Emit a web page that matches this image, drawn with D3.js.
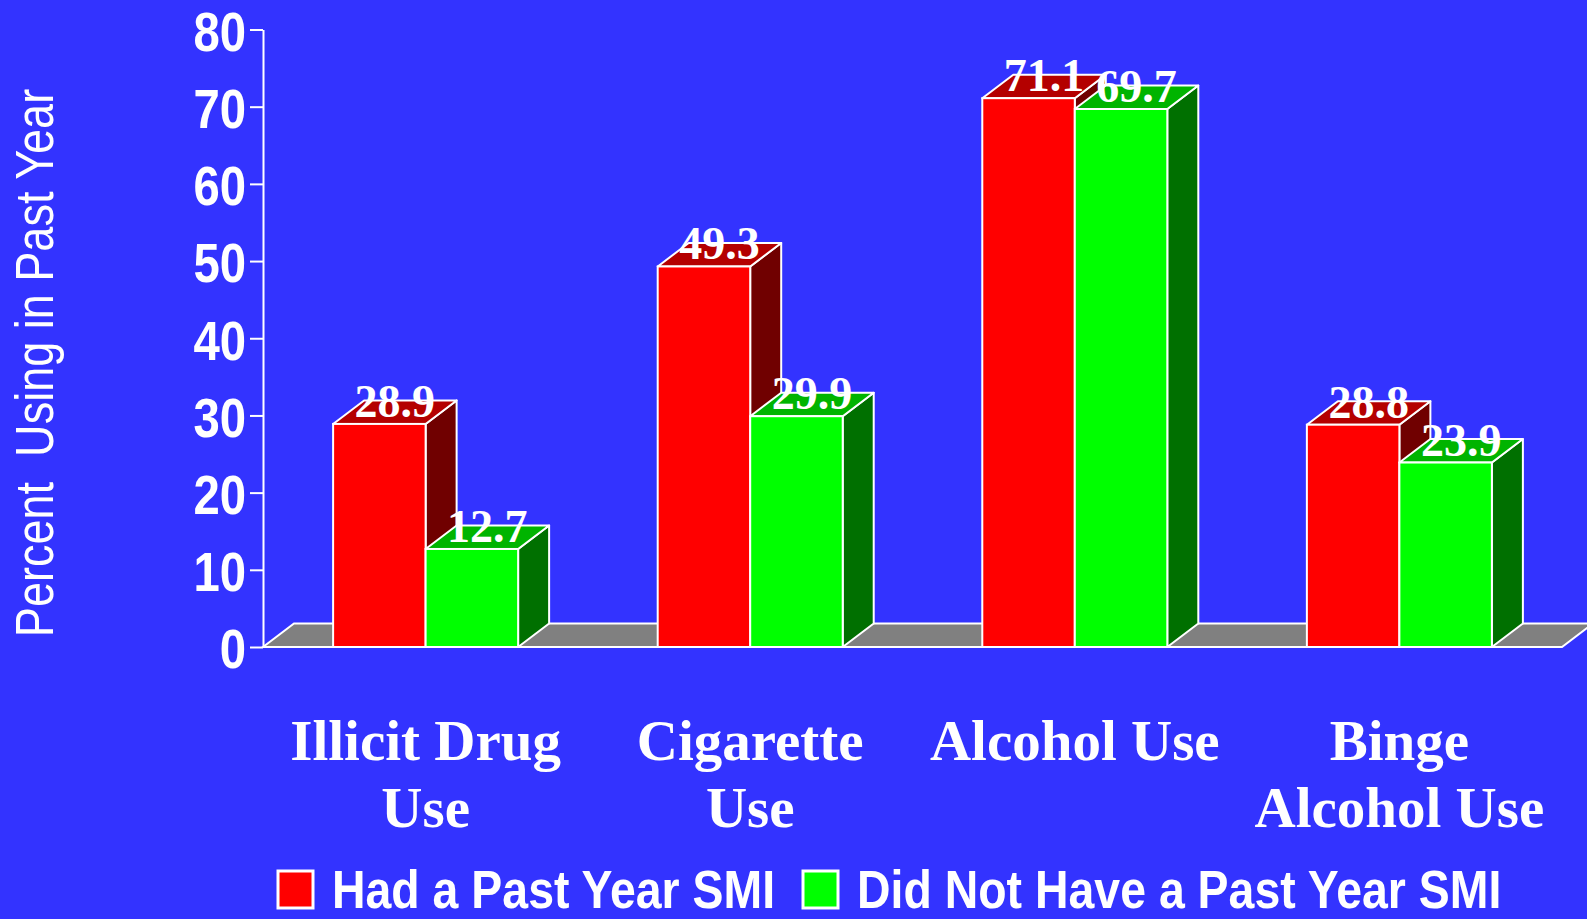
<!DOCTYPE html>
<html>
<head>
<meta charset="utf-8">
<script src="https://cdn.jsdelivr.net/npm/d3@7"></script>
<style>
  html, body { margin: 0; padding: 0; background: #3333ff; }
  svg { display: block; }
</style>
</head>
<body>
<div id="chart"></div>
<script>
// Data
const categories = ["Illicit Drug Use", "Cigarette Use", "Alcohol Use", "Binge Alcohol Use"];
const categoryLines = [["Illicit Drug", "Use"], ["Cigarette", "Use"], ["Alcohol Use"], ["Binge", "Alcohol Use"]];
const seriesNames = ["Had a Past Year SMI", "Did Not Have a Past Year SMI"];
const smiValues = [28.9, 49.3, 71.1, 28.8];
const noSmiValues = [12.7, 29.9, 69.7, 23.9];
const yTicks = [0, 10, 20, 30, 40, 50, 60, 70, 80];

// Dimensions
const width = 1587, height = 919;
const sans = "'Liberation Sans', Arial, sans-serif";
const serif = "'Liberation Serif', 'Times New Roman', serif";

// 3d depth offset
const dx = 31, dy = 23.5;

const colors = [
    {front: "#ff0000", top: "#b40000", side: "#700000"},
    {front: "#00ff00", top: "#00b400", side: "#007000"}
];

// no narrow font installed, so squeeze the sans text horizontally
function squeeze(sel, f) {
    sel.each(function () {
        const t = d3.select(this);
        const xv = +(t.attr("x") || 0);
        const tr = t.attr("transform") || "";
        t.attr("x", xv / f)
            .attr("transform", (tr + " scale(" + f + ",1)").trim());
    });
}

const svg = d3.select("#chart").append("svg")
    .attr("width", width)
    .attr("height", height);

svg.append("rect")
    .attr("width", width)
    .attr("height", height)
    .attr("fill", "#3333ff");

// Scales
const x0 = d3.scaleBand()
    .domain(categories)
    .range([263, 1562])
    .paddingInner(0.43)
    .paddingOuter(0.216);

const x1 = d3.scaleBand()
    .domain(seriesNames)
    .range([0, x0.bandwidth()]);

const y = d3.scaleLinear()
    .domain([0, 80])
    .range([647, 29.5]);

const y0 = y(0);

// Floor
const fl = x0.range()[0], fr = x0.range()[1];
svg.append("polygon")
    .attr("points", [[fl, y0], [fl + dx, y0 - dy], [fr + dx, y0 - dy], [fr, y0]].join(" "))
    .attr("fill", "#808080")
    .attr("stroke", "#ffffff")
    .attr("stroke-width", 2);

// Bars
const rows = categories.map((c, i) => ({cat: c, values: [smiValues[i], noSmiValues[i]]}));

rows.forEach(function (row) {
    const g = svg.append("g");
    row.values.forEach(function (v, j) {
        const bx = x0(row.cat) + x1(seriesNames[j]);
        const bw = x1.bandwidth();
        const by = y(v);
        const col = colors[j];

        g.append("polygon")
            .attr("points", [[bx + bw, by], [bx + bw + dx, by - dy], [bx + bw + dx, y0 - dy], [bx + bw, y0]].join(" "))
            .attr("fill", col.side)
            .attr("stroke", "#ffffff")
            .attr("stroke-width", 2)
            .attr("stroke-linejoin", "round");

        g.append("polygon")
            .attr("points", [[bx, by], [bx + dx, by - dy], [bx + bw + dx, by - dy], [bx + bw, by]].join(" "))
            .attr("fill", col.top)
            .attr("stroke", "#ffffff")
            .attr("stroke-width", 2)
            .attr("stroke-linejoin", "round");

        g.append("rect")
            .attr("x", bx)
            .attr("y", by)
            .attr("width", bw)
            .attr("height", y0 - by)
            .attr("fill", col.front)
            .attr("stroke", "#ffffff")
            .attr("stroke-width", 2);

        g.append("text")
            .attr("x", bx + bw / 2 + dx / 2)
            .attr("y", by - 7)
            .attr("text-anchor", "middle")
            .attr("font-family", serif)
            .attr("font-weight", "bold")
            .attr("font-size", 46)
            .attr("fill", "#ffffff")
            .text(d3.format(".1f")(v));
    });
});

// Y axis
const yAxis = svg.append("g")
    .attr("transform", "translate(263,0)")
    .call(d3.axisLeft(y).tickValues(yTicks).tickSize(13).tickSizeOuter(0).tickPadding(4));

yAxis.select(".domain").attr("stroke", "#ffffff").attr("stroke-width", 2);
yAxis.selectAll(".tick line").attr("stroke", "#ffffff").attr("stroke-width", 2);
yAxis.selectAll(".tick text")
    .attr("fill", "#ffffff")
    .attr("font-family", sans)
    .attr("font-weight", "bold")
    .attr("font-size", 55)
    .attr("dy", "0.38em")
    .call(squeeze, 0.86);

// Y axis title
svg.append("text")
    .attr("transform", "translate(53,363) rotate(-90)")
    .attr("text-anchor", "middle")
    .attr("font-family", sans)
    .attr("font-size", 53)
    .attr("fill", "#ffffff")
    .style("white-space", "pre")
    .text("Percent  Using in Past Year")
    .call(squeeze, 0.85);

// Category labels
categories.forEach(function (c, i) {
    const t = svg.append("text")
        .attr("text-anchor", "middle")
        .attr("font-family", serif)
        .attr("font-weight", "bold")
        .attr("font-size", 57)
        .attr("fill", "#ffffff");
    categoryLines[i].forEach(function (line, k) {
        t.append("tspan")
            .attr("x", x0(c) + x0.bandwidth() / 2)
            .attr("y", 760 + k * 67)
            .text(line);
    });
});

// Legend
const legendX = [278, 803];
seriesNames.forEach(function (name, j) {
    svg.append("rect")
        .attr("x", legendX[j])
        .attr("y", 871)
        .attr("width", 35)
        .attr("height", 37)
        .attr("fill", colors[j].front)
        .attr("stroke", "#ffffff")
        .attr("stroke-width", 3);
    svg.append("text")
        .attr("x", legendX[j] + 54)
        .attr("y", 908)
        .attr("font-family", sans)
        .attr("font-weight", "bold")
        .attr("font-size", 54)
        .attr("fill", "#ffffff")
        .text(name)
        .call(squeeze, 0.86);
});
</script>
</body>
</html>
